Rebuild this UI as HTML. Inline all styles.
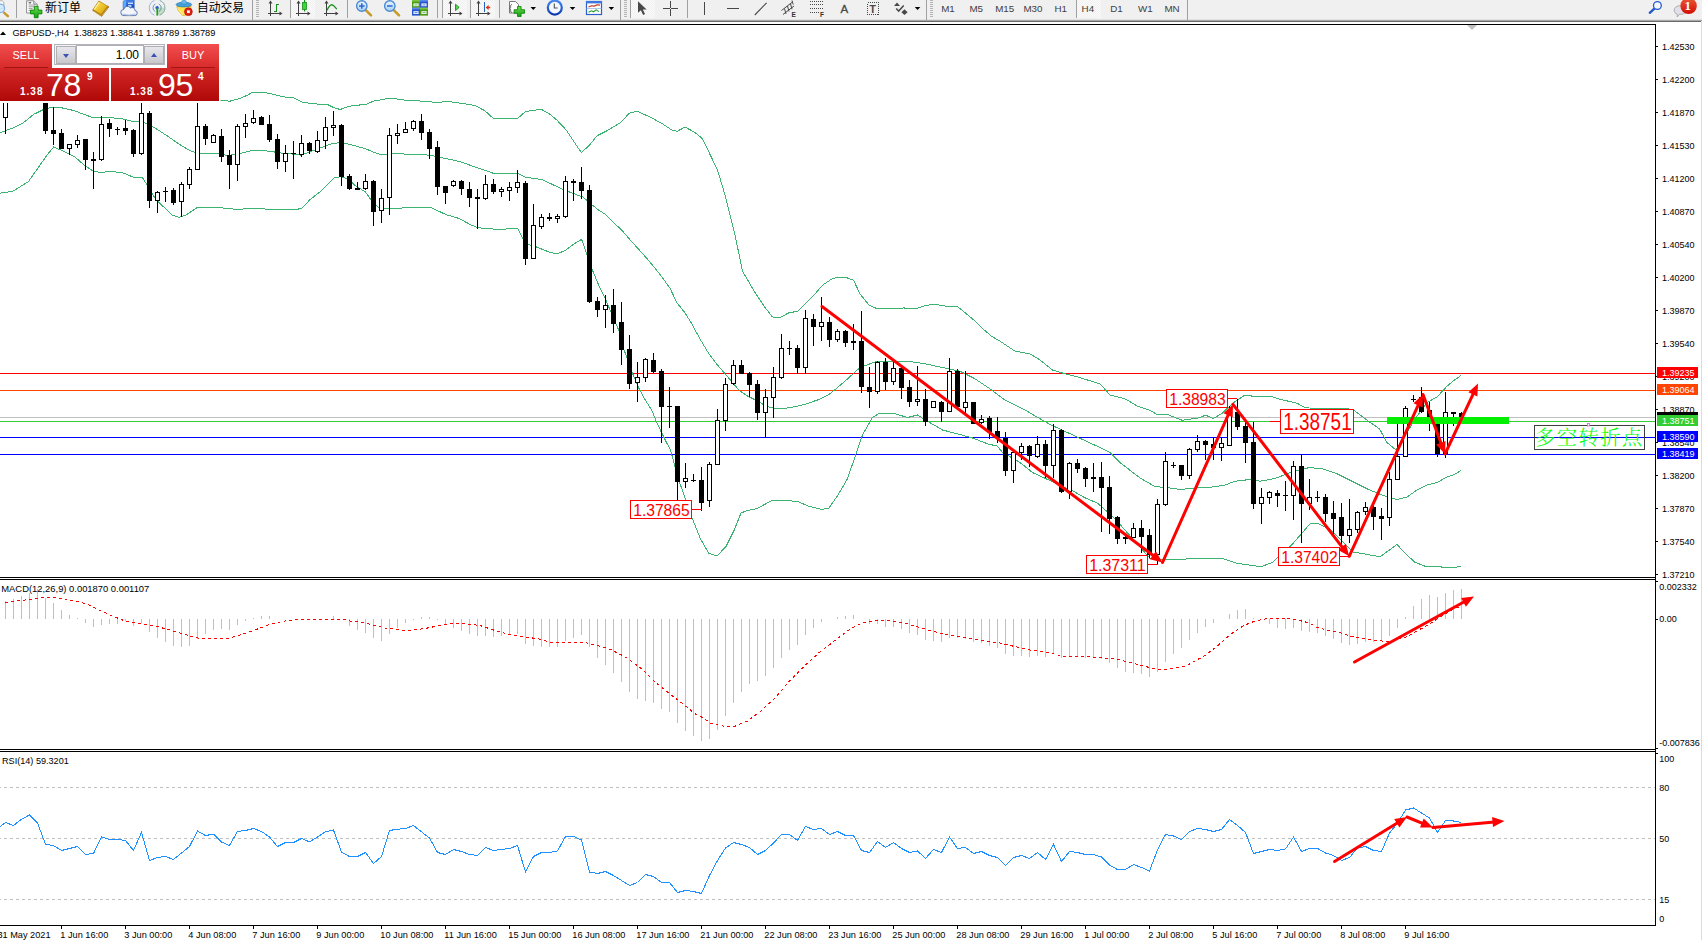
<!DOCTYPE html>
<html><head><meta charset="utf-8"><title>GBPUSD H4</title>
<style>
html,body{margin:0;padding:0;background:#fff;}
#root{position:relative;width:1702px;height:940px;overflow:hidden;background:#fff;font-family:"Liberation Sans","Noto Sans CJK SC",sans-serif;}
#oct{position:absolute;left:0;top:44px;width:219px;height:57px;}
#oct .btn{position:absolute;top:0;width:52px;height:24px;background:linear-gradient(#f24e4e,#d82a2a);color:#fff;font-size:11px;text-align:center;line-height:23px;z-index:2;}
#oct .btn i{position:absolute;left:4px;right:4px;bottom:0;height:1px;background:#a41414;}
#oct .sell{left:0}
#oct .buy{left:167px}
#oct .spin{position:absolute;left:54px;top:0;width:111px;height:21px;background:#f4f4f4;border:1px solid #b4b4bc;box-sizing:border-box;}
#oct .sb{position:absolute;top:1px;width:20px;height:18px;background:linear-gradient(#e8e8ec,#c8c8cc);border:1px solid #b0b0b4;box-sizing:border-box;}
#oct .dn{left:1px}
#oct .up{left:89px}
#oct .dn:after{content:"";position:absolute;left:6px;top:7px;border:3px solid transparent;border-top:4px solid #3c50b4;border-bottom:0;}
#oct .up:after{content:"";position:absolute;left:6px;top:6px;border:3px solid transparent;border-bottom:4px solid #3c50b4;border-top:0;}
#oct .inp{position:absolute;left:21px;top:0px;width:68px;height:19px;background:#fff;border:1px solid #b0b0b4;box-sizing:border-box;font-size:12px;line-height:18px;text-align:right;padding-right:4px;color:#000;}
#oct .blk{position:absolute;top:24px;height:33px;width:109px;background:linear-gradient(#d42828,#b00808);color:#fff;}
#oct .blk.l{left:0}
#oct .blk.r{left:111px;width:108px}
#oct .blk span{position:absolute;white-space:nowrap;}
#oct .blk .s{left:20px;top:18px;font-size:10px;font-weight:bold;line-height:12px;letter-spacing:1px;}
#oct .blk .b{left:46px;top:0px;font-size:32px;line-height:34px;letter-spacing:-0.3px;}
#oct .blk .p{left:87px;top:3px;font-size:10px;font-weight:bold;line-height:12px;}
#oct .blk.r .s{left:19px}
#oct .blk.r .b{left:47px}
#oct .blk.r .p{left:87px}

</style></head><body>
<div id="root">
<svg id="tb" width="1702" height="22" viewBox="0 0 1702 22" style="position:absolute;left:0;top:0" font-family='"Liberation Sans","Noto Sans CJK SC",sans-serif'>
<defs>
<linearGradient id="gGold" x1="0" y1="0" x2="1" y2="1"><stop offset="0" stop-color="#fbe878"/><stop offset="0.5" stop-color="#f0c428"/><stop offset="1" stop-color="#d09410"/></linearGradient>
<linearGradient id="gGlass" x1="0" y1="0" x2="0" y2="1"><stop offset="0" stop-color="#eaf4ff"/><stop offset="1" stop-color="#a8d0f4"/></linearGradient>
<linearGradient id="gBadge" x1="0" y1="0" x2="0" y2="1"><stop offset="0" stop-color="#ea5a38"/><stop offset="1" stop-color="#d40c00"/></linearGradient>
<linearGradient id="gGreen" x1="0" y1="0" x2="0" y2="1"><stop offset="0" stop-color="#6be04a"/><stop offset="1" stop-color="#12a012"/></linearGradient>
<linearGradient id="gBlue" x1="0" y1="0" x2="0" y2="1"><stop offset="0" stop-color="#4a8af0"/><stop offset="1" stop-color="#1038b0"/></linearGradient>
<pattern id="chk" width="2" height="2" patternUnits="userSpaceOnUse"><rect width="2" height="2" fill="#fbfbfb"/><rect width="1" height="1" fill="#f0f0f0"/><rect x="1" y="1" width="1" height="1" fill="#f0f0f0"/></pattern>
<g id="grip" shape-rendering="crispEdges"><rect x="0" y="0" width="3" height="1"/><rect x="0" y="2" width="3" height="1"/><rect x="0" y="4" width="3" height="1"/><rect x="0" y="6" width="3" height="1"/><rect x="0" y="8" width="3" height="1"/><rect x="0" y="10" width="3" height="1"/><rect x="0" y="12" width="3" height="1"/><rect x="0" y="14" width="3" height="1"/><rect x="0" y="16" width="3" height="1"/></g>
</defs>
<rect x="0" y="0" width="1702" height="22" fill="#f0f0f0"/>
<rect x="0" y="19" width="1702" height="1" fill="#e2e2e2"/>
<rect x="0" y="20" width="1702" height="1" fill="#a8a8a8"/>
<rect x="0" y="21" width="1702" height="1" fill="#6a6a6a"/>

<!-- active button backgrounds -->
<rect x="291" y="0" width="24" height="18" fill="url(#chk)"/>
<rect x="442" y="0" width="25" height="18" fill="url(#chk)"/>
<rect x="470" y="0" width="25" height="18" fill="url(#chk)"/>
<rect x="631" y="0" width="24" height="18" fill="url(#chk)"/>
<rect x="1077" y="0" width="24" height="18" fill="url(#chk)"/>

<!-- separators -->
<g fill="#a0a0a0" shape-rendering="crispEdges">
<rect x="16" y="0" width="1" height="18"/>
<rect x="252" y="0" width="1" height="20"/>
<rect x="290" y="0" width="1" height="18"/>
<rect x="347" y="0" width="1" height="18"/>
<rect x="437" y="0" width="1" height="18"/>
<rect x="442" y="0" width="1" height="18"/>
<rect x="470" y="0" width="1" height="18"/>
<rect x="499" y="0" width="1" height="18"/>
<rect x="620" y="0" width="1" height="20"/>
<rect x="630" y="0" width="1" height="18"/>
<rect x="687" y="0" width="1" height="18"/>
<rect x="926" y="0" width="1" height="20"/>
<rect x="1076" y="0" width="1" height="18"/>
<rect x="1187" y="0" width="1" height="20"/>
</g>
<!-- grips -->
<use href="#grip" x="256" y="0" fill="#b4b4b4"/>
<use href="#grip" x="624" y="0" fill="#b4b4b4"/>
<use href="#grip" x="930" y="0" fill="#b4b4b4"/>

<!-- magnifier cut at left -->
<path d="M-1 0.8h3.2l1.6 1.6v6h-5z" fill="#fff" stroke="#9a9a9a" stroke-width="0.8"/>
<line x1="4.2" y1="12.8" x2="7.9" y2="16.2" stroke="#c8982a" stroke-width="2.5" stroke-linecap="round"/>
<circle cx="0.4" cy="8.3" r="4.2" fill="#cfe6fb" fill-opacity="0.85" stroke="#7fb0e6" stroke-width="1.2"/>

<!-- new order -->
<path d="M26.6 0.8h7.2l3.4 3.4v8.8h-10.6z" fill="#fff" stroke="#808080" stroke-width="0.9"/>
<path d="M33.8 0.8v3.4h3.4" fill="#e4e4e4" stroke="#808080" stroke-width="0.9"/>
<path d="M28.6 2.8h2.6" stroke="#505050" stroke-width="1.2"/><path d="M28.6 5h6.2M28.6 6.8h6.2M28.6 8.6h4M28.6 10.4h3" stroke="#808080" stroke-width="0.8"/>
<path d="M34.3 6.3h3.8v3.8h3.8v3.8h-3.8v3.8h-3.8v-3.8h-3.8v-3.8h3.8z" fill="url(#gGreen)" stroke="#0a820a" stroke-width="0.9" stroke-linejoin="round"/>
<text x="45" y="11.6" font-size="12px" fill="#000" textLength="36" lengthAdjust="spacingAndGlyphs">新订单</text>

<!-- gold book -->
<path d="M92.7 10.3l8.9 6 7.2-9.4-1.3-.9-6.3 8.4-8-4.9z" fill="#b07c10" stroke="#8a5a04" stroke-width="0.8" stroke-linejoin="round"/>
<path d="M93.8 11.3l7.6 4.9M108 7.4l-6.2 8.4" stroke="#ecc85c" stroke-width="0.6" fill="none"/>
<path d="M98.9 1l8.6 5.2-6.3 8.4-8.2-5z" fill="url(#gGold)" stroke="#b8860c" stroke-width="0.8" stroke-linejoin="round"/>
<path d="M99.2 2.4l-4.9 7" stroke="#fff8c8" stroke-width="1.1" fill="none" stroke-opacity="0.85"/>
<!-- cloud / terminal -->
<path d="M123.2 1.2l3-1.2h8v8.6h-11z" fill="url(#gBlue)" stroke="#1a58c8" stroke-width="0.6"/>
<path d="M123.2 1.2l3-1.2v8.6h-3z" fill="#5aa8ff"/>
<rect x="128" y="2.6" width="5" height="1.3" fill="#d8ecff"/><rect x="128" y="5" width="3.4" height="2.4" fill="#a8d0ff"/>
<path d="M124 15.6a3.1 3.1 0 0 1-.2-6.2a3.6 3.6 0 0 1 6.6-1.4a3 3 0 0 1 4.6 2.6a2.5 2.5 0 0 1-.6 5z" fill="#f2f6fc" stroke="#4a68a8" stroke-width="0.9"/>
<path d="M122.6 14.2q6 1.6 13 0" stroke="#b8c8e4" stroke-width="1.2" fill="none"/>
<!-- signals -->
<path d="M157.1 15.4v-7.6h7.8a7.8 7.8 0 0 1-7.8 7.8z" fill="#8cc88c" fill-opacity="0.45"/>
<path d="M154.4 15.1a7.8 7.8 0 0 1 0-14.6M159.8 0.5a7.8 7.8 0 0 1 0 14.6" fill="none" stroke="#9ab4e0" stroke-width="1"/>
<path d="M155.4 11.6a4.2 4.2 0 0 1 0-7.6M158.8 4a4.2 4.2 0 0 1 0 7.6" fill="none" stroke="#6a90dc" stroke-width="1"/>
<path d="M159.8 0.5a7.8 7.8 0 0 1 0 14.6M158.8 4a4.2 4.2 0 0 1 0 7.6" fill="none" stroke="#88b888" stroke-width="1" stroke-opacity="0.7"/>
<circle cx="157.1" cy="7.8" r="1.7" fill="#2a58cc"/>
<rect x="156.4" y="8" width="1.7" height="7.6" fill="#22a022"/>
<!-- expert advisors -->
<path d="M176.8 6.4h14.4l-1.6 4-4.8 5.4-2.4-.6-4.4-5z" fill="#ffe248" stroke="#d8a818" stroke-width="0.7" stroke-linejoin="round"/>
<path d="M178 8.6l5 6" stroke="#fff6b0" stroke-width="1" fill="none"/>
<ellipse cx="183.9" cy="4.6" rx="7.8" ry="2.3" fill="#4aa0dc" stroke="#2078b0" stroke-width="0.7"/>
<path d="M181.2 4c-.4-5 6-5 5.6 0z" fill="#68b8ec" stroke="#2a86c0" stroke-width="0.6"/>
<circle cx="188.4" cy="11.7" r="3.9" fill="#e02010" stroke="#b01008" stroke-width="0.7"/>
<rect x="187" y="10.3" width="2.8" height="2.8" fill="#fff"/>
<text x="197" y="11.6" font-size="12px" fill="#000" textLength="47" lengthAdjust="spacingAndGlyphs">自动交易</text>

<!-- chart type icons: axes -->
<g stroke="#404040" stroke-width="1" fill="none" shape-rendering="crispEdges">
<path d="M270.5 2v14M268 13.5h13"/>
<path d="M298.5 2v14M296 13.5h13"/>
<path d="M326.5 2v14M324 13.5h13"/>
<path d="M450.5 2v14M448 13.5h13"/>
<path d="M478.5 2v14M476 13.5h13"/>
</g>
<g fill="#404040">
<path d="M270.5 0.5l-2 3h4zM282.5 13.5l-3-2v4z"/>
<path d="M298.5 0.5l-2 3h4zM310.5 13.5l-3-2v4z"/>
<path d="M326.5 0.5l-2 3h4zM338.5 13.5l-3-2v4z"/>
<path d="M450.5 0.5l-2 3h4zM462.5 13.5l-3-2v4z"/>
<path d="M478.5 0.5l-2 3h4zM490.5 13.5l-3-2v4z"/>
</g>
<!-- bar -->
<g fill="#18901c" shape-rendering="crispEdges"><rect x="276" y="4" width="1.4" height="8"/><rect x="277" y="4" width="2.2" height="1.3"/><rect x="274" y="10.6" width="2.2" height="1.3"/></g>
<!-- candle -->
<rect x="304" y="0" width="1.2" height="11.5" fill="#18901c"/>
<rect x="302.5" y="2.5" width="4" height="7" fill="#38d838" stroke="#18901c" stroke-width="0.8"/>
<!-- line -->
<path d="M326.8 10.5c2-4 4-6.3 5.6-5.6s3 2.5 4.4 4.3" stroke="#18901c" stroke-width="1.3" fill="none"/>
<!-- zoom in/out -->
<g>
<line x1="366" y1="10.4" x2="371" y2="15.4" stroke="#c89a28" stroke-width="2.6" stroke-linecap="round"/>
<circle cx="361.8" cy="6" r="5.2" fill="url(#gGlass)" stroke="#4a8ad4" stroke-width="1.4"/>
<path d="M359 6h5.6M361.8 3.2v5.6" stroke="#2a6acc" stroke-width="1.5"/>
<line x1="394" y1="10.4" x2="399" y2="15.4" stroke="#c89a28" stroke-width="2.6" stroke-linecap="round"/>
<circle cx="389.8" cy="6" r="5.2" fill="url(#gGlass)" stroke="#4a8ad4" stroke-width="1.4"/>
<path d="M387 6h5.6" stroke="#2a6acc" stroke-width="1.5"/>
</g>
<!-- tile windows -->
<g>
<rect x="412" y="0" width="8" height="7.8" fill="#4c9c14"/><rect x="420" y="0" width="8" height="7.8" fill="#2454d0"/>
<rect x="412" y="7.8" width="8" height="7.8" fill="#2454d0"/><rect x="420" y="7.8" width="8" height="7.8" fill="#4c9c14"/>
<g fill="#7ac43c"><rect x="412" y="0" width="8" height="1.6"/><rect x="420" y="7.8" width="8" height="1.6"/></g>
<g fill="#5a88ee"><rect x="420" y="0" width="8" height="1.6"/><rect x="412" y="7.8" width="8" height="1.6"/></g>
<g fill="#f4f8ff"><rect x="413.4" y="3.4" width="5.2" height="2.8"/><rect x="421.4" y="3.4" width="5.2" height="2.8"/><rect x="413.4" y="11.2" width="5.2" height="2.8"/><rect x="421.4" y="11.2" width="5.2" height="2.8"/></g>
<g fill="#4c9c14"><rect x="414.4" y="4.6" width="3.2" height="0.7"/><rect x="422.4" y="12.4" width="3.2" height="0.7"/></g>
<g fill="#2454d0"><rect x="422.4" y="4.6" width="3.2" height="0.7"/><rect x="414.4" y="12.4" width="3.2" height="0.7"/></g>
</g>
<!-- autoscroll -->
<path d="M455.5 4.2l3.6 3.2-3.6 3.2z" fill="#50d850" stroke="#18901c" stroke-width="0.9"/>
<!-- chart shift -->
<rect x="484" y="2" width="1" height="10" fill="#2060c0" shape-rendering="crispEdges"/>
<path d="M485.6 7.5l3-2.4v1.6h1.6v1.6h-1.6v1.6z" fill="#e03010"/>
<!-- indicators doc + -->
<path d="M509.5 1.5h6l3 3v8.5h-9z" fill="#fff" stroke="#7a7a7a" stroke-width="1"/>
<path d="M512 4.5c-1.4 0-1.4 1-1.4 2.2s0 1.6-1 1.8c1 .2 1 .6 1 1.8s0 2 1.4 2" fill="none" stroke="#555" stroke-width="0.9"/>
<path d="M517.5 6.5h3.6v3.2h3.4v3.6h-3.4v3.2h-3.6v-3.2h-3.4v-3.6h3.4z" fill="url(#gGreen)" stroke="#0a7a0a" stroke-width="0.8"/>
<path d="M530.5 7h5.5l-2.75 3z" fill="#000"/>
<!-- clock -->
<circle cx="554.8" cy="7.6" r="7" fill="#f4f8ff" stroke="url(#gBlue)" stroke-width="2.2"/>
<path d="M554.3 3.6v4.4h3.4" fill="none" stroke="#505050" stroke-width="1.1"/>
<path d="M569.8 7h5.5l-2.75 3z" fill="#000"/>
<!-- template -->
<rect x="586.5" y="1.5" width="15" height="13" fill="#fff" stroke="#2a60c8" stroke-width="1.2"/>
<rect x="586" y="1" width="16" height="2.4" fill="#3a78e0"/>
<path d="M586.5 8.5h15" stroke="#9ab8e8" stroke-width="0.8"/>
<path d="M588.5 7l3-1.3 3 .4 2.5-1.4 3 .4" fill="none" stroke="#c03018" stroke-width="1.1"/>
<path d="M588.5 12.2l3-1.4 2 1 2.6-2 3 1.8" fill="none" stroke="#20a030" stroke-width="1.1"/>
<path d="M608.6 7h5.5l-2.75 3z" fill="#000"/>
<!-- cursor -->
<path d="M638 1.2v11.6l2.9-2.6 2.2 4.8 1.9-.9-2.2-4.6h3.8z" fill="#484848"/>
<!-- crosshair -->
<g fill="#484848" shape-rendering="crispEdges"><rect x="670" y="1" width="1" height="15"/><rect x="663" y="8" width="15" height="1"/></g>
<rect x="670" y="8" width="1" height="1" fill="#f0f0f0"/>
<!-- v/h/trend line -->
<g fill="#484848" shape-rendering="crispEdges"><rect x="704" y="2" width="1" height="13"/><rect x="727" y="8" width="12" height="1"/></g>
<line x1="754.8" y1="15" x2="766.6" y2="2.8" stroke="#484848" stroke-width="1.1"/>
<!-- channel -->
<g stroke="#484848" stroke-width="1" fill="none">
<path d="M781.5 10.5l11-8.5M783 14.5l11-8.5M784.5 8.5l1.5 5.5M787.5 6l1.5 5.5M790.5 3.8l1.5 5.5M792 0.5l1.2 4"/>
</g>
<text x="791.5" y="16.8" font-size="6.5px" font-weight="bold" fill="#303030">E</text>
<!-- fibo -->
<g stroke="#484848" stroke-width="1" stroke-dasharray="1,1" shape-rendering="crispEdges">
<path d="M810 1.5h13M810 4.5h13M810 8.5h13M810 12.5h10"/>
</g>
<text x="820" y="16.6" font-size="6.5px" font-weight="bold" fill="#303030">F</text>
<!-- A -->
<text x="840.4" y="12.6" font-size="11.5px" fill="#484848" stroke="#484848" stroke-width="0.3">A</text>
<!-- T box -->
<rect x="867.5" y="2.5" width="11" height="12" fill="none" stroke="#484848" stroke-width="1" stroke-dasharray="1,1" shape-rendering="crispEdges"/>
<text x="869.6" y="12.6" font-size="10.5px" font-weight="bold" fill="#484848">T</text>
<!-- arrows -->
<path d="M894 6l3-3.6 3 3.6z" fill="#484848"/><path d="M896.2 8.4l2.5 2.7 5-5.6" fill="none" stroke="#484848" stroke-width="1.5"/><path d="M901.4 12.2l3.1-2.9 3.1 2.9-3.1 2.9z" fill="#484848"/>
<path d="M914.8 7h5.5l-2.75 3z" fill="#000"/>
<!-- timeframes -->
<g font-size="9.8px" fill="#404040">
<text x="941.2" y="11.5">M1</text><text x="969.4" y="11.5">M5</text><text x="995.2" y="11.5">M15</text><text x="1023.4" y="11.5">M30</text>
<text x="1054.4" y="11.5">H1</text><text x="1081.6" y="11.5">H4</text><text x="1110.2" y="11.5">D1</text><text x="1138" y="11.5">W1</text><text x="1164.4" y="11.5">MN</text>
</g>
<!-- search -->
<line x1="1649.8" y1="12.8" x2="1654.6" y2="8.4" stroke="#2458cc" stroke-width="2.4" stroke-linecap="round"/>
<circle cx="1657.4" cy="5.5" r="3.9" fill="#f6f8ff" stroke="#2458cc" stroke-width="1.3"/>
<!-- chat + badge -->
<path d="M1674.2 10.2c0-6 12-6 12 0c0 4-4.8 4.2-7 4.2l-2 2.6v-2.9c-1.6-.5-3-1.6-3-3.9z" fill="#e0e0ea" stroke="#a8a8a8" stroke-width="0.9"/>
<circle cx="1688.6" cy="5.9" r="8.2" fill="url(#gBadge)"/>
<text x="1684.4" y="10.2" font-size="13px" font-weight="bold" fill="#fff" font-family='"Liberation Serif",serif'>1</text>
</svg>

<svg id="chart" width="1702" height="940" viewBox="0 0 1702 940" style="position:absolute;left:0;top:0" font-family='"Liberation Sans", sans-serif' font-size="9px">
<g shape-rendering="crispEdges" fill="#000">
<rect x="0" y="24" width="1656" height="1"/>
<rect x="1655" y="24" width="1" height="902"/>
<rect x="0" y="577" width="1656" height="1"/>
<rect x="0" y="579" width="1656" height="1"/>
<rect x="0" y="749" width="1656" height="1"/>
<rect x="0" y="751" width="1656" height="1"/>
<rect x="0" y="925" width="1656" height="1"/>
</g>
<g shape-rendering="crispEdges">
<rect x="0" y="373" width="1655" height="1" fill="#ff0000"/>
<rect x="0" y="390" width="1655" height="1" fill="#ff4500"/>
<rect x="0" y="417" width="1655" height="1" fill="#c0c0c0"/>
<rect x="0" y="421" width="1655" height="1" fill="#32cd32"/>
<rect x="0" y="437" width="1655" height="1" fill="#0000ff"/>
<rect x="0" y="454" width="1655" height="1" fill="#0000ff"/>
</g>
<polyline points="205.0,100.0 220.7,100.2 229.7,101.2 238.8,98.9 247.8,95.0 252.5,92.3 265.0,92.5 276.3,95.0 284.0,96.9 293.0,97.6 302.1,102.1 313.8,103.8 328.0,104.7 334.4,107.9 340.3,109.5 346.0,107.3 353.8,105.3 365.5,104.7 373.2,101.2 387.4,98.6 396.5,98.9 406.8,100.4 419.8,100.8 420.0,101.2 439.4,102.5 445.9,101.2 458.8,103.0 474.3,105.3 484.6,110.5 493.4,118.5 517.6,118.5 525.4,111.5 533.8,110.3 540.9,109.2 549.3,113.7 557.0,120.2 566.1,129.9 573.8,141.5 581.3,152.5 589.3,145.4 597.1,135.7 606.1,131.2 620.4,122.8 629.4,113.1 637.2,111.2 650.0,117.0 662.5,123.8 672.5,130.5 677.5,131.2 685.0,127.0 695.0,132.5 702.5,138.8 717.5,170.0 725.0,195.0 735.0,235.0 742.5,271.2 755.0,292.5 765.0,307.5 772.5,317.0 780.0,317.5 789.0,312.7 797.5,311.4 806.0,303.0 815.0,294.0 822.7,285.0 831.7,279.0 838.0,277.0 846.0,277.4 853.7,280.4 860.0,294.0 869.0,305.0 876.3,308.4 904.0,308.0 917.0,308.4 924.8,305.6 933.8,304.3 946.8,306.2 957.0,306.2 967.4,314.6 976.5,322.4 983.0,329.0 992.0,336.6 1000.0,341.2 1015.0,351.2 1030.0,353.8 1040.0,360.0 1052.5,370.0 1062.5,373.0 1075.0,376.2 1087.5,380.0 1100.0,383.8 1110.0,395.0 1125.0,398.8 1137.5,406.2 1150.0,410.4 1157.8,414.9 1166.8,414.3 1182.3,420.3 1197.8,418.1 1205.6,415.2 1213.3,418.5 1222.4,413.0 1232.7,403.3 1244.4,395.3 1253.4,396.2 1270.2,396.2 1280.6,399.4 1297.4,403.3 1305.1,407.8 1320.0,408.5 1341.3,408.2 1346.5,408.2 1354.2,410.4 1367.2,420.3 1379.5,428.8 1387.0,442.5 1396.0,450.0 1407.0,432.5 1417.0,416.2 1427.0,402.5 1437.0,397.0 1447.0,386.2 1454.5,380.0 1461.0,375.5" fill="none" stroke="#3cb371" stroke-width="1" shape-rendering="crispEdges"/>
<polyline points="0.0,132.7 12.9,128.0 23.3,122.8 33.6,114.4 42.7,109.9 51.7,107.3 62.0,107.9 73.7,110.5 84.0,114.4 93.1,117.6 109.9,117.6 122.8,118.9 133.1,121.5 142.2,121.5 147.4,124.1 155.1,128.0 168.0,136.4 181.0,145.4 190.0,150.6 195.2,152.5 200.0,153.4 218.1,153.4 227.8,155.8 233.6,154.5 241.4,153.2 251.7,150.6 264.6,150.6 273.7,151.9 282.7,153.2 290.5,153.8 300.8,155.1 309.9,151.9 320.2,148.0 330.6,144.1 339.0,142.6 346.1,143.5 356.4,146.1 366.8,149.3 374.5,152.5 381.0,154.7 386.1,154.2 393.9,153.2 406.8,154.2 419.8,154.7 420.0,154.2 432.9,155.8 445.9,158.6 460.1,161.6 471.7,165.8 482.0,169.3 493.0,173.2 517.6,173.2 525.4,177.1 542.2,179.7 551.9,184.2 562.2,189.1 572.5,193.2 582.9,197.1 590.6,203.6 598.4,210.0 604.8,213.9 611.3,220.4 621.7,230.1 629.4,239.1 639.8,250.5 648.2,260.0 658.8,272.9 669.8,287.8 676.9,302.7 684.6,312.4 692.4,324.6 695.0,330.0 700.8,340.3 708.6,353.3 716.3,363.6 724.1,372.7 731.9,381.7 739.6,390.8 747.4,395.9 755.1,399.8 762.9,404.3 770.6,407.6 778.4,408.6 786.1,408.2 796.5,406.3 806.8,403.7 819.8,399.2 830.0,393.8 845.0,381.2 860.0,367.5 875.0,362.0 887.5,361.2 907.5,361.2 925.0,363.8 942.5,367.5 960.0,371.2 975.0,378.8 990.0,388.8 1005.0,400.0 1025.0,410.0 1050.0,424.5 1075.0,436.0 1100.0,447.5 1110.0,452.5 1120.0,462.5 1140.0,478.0 1155.0,486.5 1170.0,488.0 1180.0,489.5 1200.0,487.5 1212.5,487.0 1225.0,485.0 1235.0,481.2 1250.0,479.5 1260.0,481.2 1275.0,478.5 1292.0,472.0 1309.5,467.5 1322.0,468.8 1337.0,473.8 1352.0,481.2 1367.0,488.8 1382.0,495.0 1397.0,499.5 1407.0,497.0 1417.0,490.0 1427.0,485.0 1437.0,482.5 1447.0,477.0 1454.5,474.5 1461.0,470.5" fill="none" stroke="#3cb371" stroke-width="1" shape-rendering="crispEdges"/>
<polyline points="0.0,193.2 12.9,191.3 28.4,181.6 37.5,168.7 46.5,155.8 53.6,147.0 62.0,150.6 75.0,157.0 85.3,166.1 93.7,171.3 102.1,172.6 109.9,171.0 124.1,173.2 133.1,177.1 142.2,177.1 147.4,185.5 155.1,198.4 162.9,206.2 171.9,215.0 179.0,217.5 186.1,215.0 197.8,207.2 200.0,207.2 225.9,208.1 236.2,209.4 251.7,208.5 275.0,209.4 297.0,209.4 302.1,208.1 309.9,199.7 321.5,190.7 329.3,182.9 334.4,177.7 340.9,176.7 348.7,179.0 355.1,185.5 365.5,192.0 371.9,201.0 379.7,208.8 386.1,208.8 399.1,208.5 406.8,207.2 419.8,207.2 420.0,207.2 430.3,207.2 445.9,214.6 458.8,218.4 470.4,224.6 477.5,227.5 484.6,228.5 500.1,229.4 513.1,228.5 517.6,228.1 522.8,238.5 527.9,244.3 536.3,246.9 542.8,249.5 550.6,252.7 557.0,253.6 564.8,250.8 572.5,244.9 581.6,239.4 586.8,254.0 591.9,268.9 598.4,284.4 604.8,297.3 610.0,310.0 618.7,330.0 623.9,349.4 632.3,372.7 638.8,388.2 645.2,399.8 651.7,410.1 656.9,423.1 662.0,433.4 667.2,443.8 670.5,450.0 679.0,481.0 685.5,499.0 692.5,519.0 700.5,539.0 709.0,553.5 717.0,556.0 726.0,546.5 734.0,530.5 741.0,513.0 746.0,511.0 757.0,508.5 772.0,500.5 785.0,500.5 798.0,501.5 808.0,506.0 822.0,509.5 829.0,508.0 838.0,495.0 847.0,479.5 854.0,460.0 862.5,435.0 872.5,417.5 880.0,413.0 895.0,413.8 907.5,417.5 917.5,415.0 927.5,421.2 942.5,430.0 957.5,433.8 972.5,438.0 987.5,443.8 997.5,446.2 1002.5,452.5 1020.0,462.5 1032.5,472.5 1065.0,487.5 1071.3,490.0 1084.4,497.5 1097.6,503.2 1114.5,518.2 1142.7,550.2 1150.2,558.6 1165.3,559.6 1201.0,558.6 1221.7,558.1 1236.7,563.3 1261.2,566.7 1272.4,562.4 1291.2,545.5 1310.0,523.8 1317.6,523.5 1330.7,529.5 1342.0,540.8 1353.3,552.0 1380.0,556.7 1389.5,550.0 1397.0,544.5 1404.5,552.5 1414.5,562.0 1427.0,567.0 1437.0,566.2 1447.0,568.0 1454.5,567.5 1461.0,566.2" fill="none" stroke="#3cb371" stroke-width="1" shape-rendering="crispEdges"/>
<g shape-rendering="crispEdges">
<rect x="5" y="95" width="1" height="39" fill="#000"/>
<rect x="3" y="96" width="5" height="22" fill="#000"/>
<rect x="4" y="97" width="3" height="20" fill="#fff"/>
<rect x="13" y="60" width="1" height="32" fill="#000"/>
<rect x="11" y="70" width="5" height="20" fill="#000"/>
<rect x="12" y="71" width="3" height="18" fill="#fff"/>
<rect x="21" y="60" width="1" height="32" fill="#000"/>
<rect x="19" y="70" width="5" height="20" fill="#000"/>
<rect x="29" y="60" width="1" height="32" fill="#000"/>
<rect x="27" y="70" width="5" height="20" fill="#000"/>
<rect x="28" y="71" width="3" height="18" fill="#fff"/>
<rect x="37" y="60" width="1" height="35" fill="#000"/>
<rect x="35" y="66" width="5" height="24" fill="#000"/>
<rect x="36" y="67" width="3" height="22" fill="#fff"/>
<rect x="45" y="95" width="1" height="39" fill="#000"/>
<rect x="43" y="96" width="5" height="35" fill="#000"/>
<rect x="53" y="107" width="1" height="38" fill="#000"/>
<rect x="51" y="130" width="5" height="4" fill="#000"/>
<rect x="61" y="129" width="1" height="20" fill="#000"/>
<rect x="59" y="133" width="5" height="16" fill="#000"/>
<rect x="69" y="144" width="1" height="11" fill="#000"/>
<rect x="67" y="144" width="5" height="5" fill="#000"/>
<rect x="68" y="145" width="3" height="3" fill="#fff"/>
<rect x="77" y="135" width="1" height="13" fill="#000"/>
<rect x="75" y="140" width="5" height="5" fill="#000"/>
<rect x="76" y="141" width="3" height="3" fill="#fff"/>
<rect x="85" y="139" width="1" height="31" fill="#000"/>
<rect x="83" y="139" width="5" height="21" fill="#000"/>
<rect x="93" y="152" width="1" height="37" fill="#000"/>
<rect x="91" y="159" width="5" height="2" fill="#000"/>
<rect x="101" y="116" width="1" height="45" fill="#000"/>
<rect x="99" y="124" width="5" height="36" fill="#000"/>
<rect x="100" y="125" width="3" height="34" fill="#fff"/>
<rect x="109" y="119" width="1" height="18" fill="#000"/>
<rect x="107" y="123" width="5" height="6" fill="#000"/>
<rect x="117" y="127" width="1" height="8" fill="#000"/>
<rect x="115" y="129" width="5" height="1" fill="#000"/>
<rect x="125" y="120" width="1" height="15" fill="#000"/>
<rect x="123" y="128" width="5" height="3" fill="#000"/>
<rect x="133" y="129" width="1" height="28" fill="#000"/>
<rect x="131" y="130" width="5" height="24" fill="#000"/>
<rect x="141" y="103" width="1" height="52" fill="#000"/>
<rect x="139" y="113" width="5" height="41" fill="#000"/>
<rect x="140" y="114" width="3" height="39" fill="#fff"/>
<rect x="149" y="111" width="1" height="97" fill="#000"/>
<rect x="147" y="113" width="5" height="88" fill="#000"/>
<rect x="157" y="191" width="1" height="22" fill="#000"/>
<rect x="155" y="192" width="5" height="9" fill="#000"/>
<rect x="156" y="193" width="3" height="7" fill="#fff"/>
<rect x="165" y="187" width="1" height="15" fill="#000"/>
<rect x="163" y="191" width="5" height="1" fill="#000"/>
<rect x="173" y="188" width="1" height="17" fill="#000"/>
<rect x="171" y="190" width="5" height="13" fill="#000"/>
<rect x="181" y="182" width="1" height="35" fill="#000"/>
<rect x="179" y="184" width="5" height="18" fill="#000"/>
<rect x="180" y="185" width="3" height="16" fill="#fff"/>
<rect x="189" y="167" width="1" height="22" fill="#000"/>
<rect x="187" y="169" width="5" height="16" fill="#000"/>
<rect x="188" y="170" width="3" height="14" fill="#fff"/>
<rect x="197" y="103" width="1" height="67" fill="#000"/>
<rect x="195" y="126" width="5" height="44" fill="#000"/>
<rect x="196" y="127" width="3" height="42" fill="#fff"/>
<rect x="205" y="124" width="1" height="21" fill="#000"/>
<rect x="203" y="126" width="5" height="13" fill="#000"/>
<rect x="213" y="134" width="1" height="9" fill="#000"/>
<rect x="211" y="135" width="5" height="8" fill="#000"/>
<rect x="212" y="136" width="3" height="6" fill="#fff"/>
<rect x="221" y="129" width="1" height="33" fill="#000"/>
<rect x="219" y="136" width="5" height="21" fill="#000"/>
<rect x="229" y="150" width="1" height="39" fill="#000"/>
<rect x="227" y="155" width="5" height="10" fill="#000"/>
<rect x="237" y="124" width="1" height="57" fill="#000"/>
<rect x="235" y="126" width="5" height="39" fill="#000"/>
<rect x="236" y="127" width="3" height="37" fill="#fff"/>
<rect x="245" y="114" width="1" height="24" fill="#000"/>
<rect x="243" y="123" width="5" height="4" fill="#000"/>
<rect x="244" y="124" width="3" height="2" fill="#fff"/>
<rect x="253" y="110" width="1" height="14" fill="#000"/>
<rect x="251" y="118" width="5" height="5" fill="#000"/>
<rect x="252" y="119" width="3" height="3" fill="#fff"/>
<rect x="261" y="116" width="1" height="9" fill="#000"/>
<rect x="259" y="117" width="5" height="8" fill="#000"/>
<rect x="269" y="115" width="1" height="27" fill="#000"/>
<rect x="267" y="124" width="5" height="16" fill="#000"/>
<rect x="277" y="134" width="1" height="35" fill="#000"/>
<rect x="275" y="139" width="5" height="23" fill="#000"/>
<rect x="285" y="145" width="1" height="27" fill="#000"/>
<rect x="283" y="153" width="5" height="9" fill="#000"/>
<rect x="284" y="154" width="3" height="7" fill="#fff"/>
<rect x="293" y="141" width="1" height="38" fill="#000"/>
<rect x="291" y="153" width="5" height="1" fill="#000"/>
<rect x="301" y="135" width="1" height="22" fill="#000"/>
<rect x="299" y="143" width="5" height="12" fill="#000"/>
<rect x="300" y="144" width="3" height="10" fill="#fff"/>
<rect x="309" y="142" width="1" height="12" fill="#000"/>
<rect x="307" y="143" width="5" height="8" fill="#000"/>
<rect x="317" y="131" width="1" height="22" fill="#000"/>
<rect x="315" y="140" width="5" height="12" fill="#000"/>
<rect x="316" y="141" width="3" height="10" fill="#fff"/>
<rect x="325" y="117" width="1" height="32" fill="#000"/>
<rect x="323" y="127" width="5" height="14" fill="#000"/>
<rect x="324" y="128" width="3" height="12" fill="#fff"/>
<rect x="333" y="111" width="1" height="25" fill="#000"/>
<rect x="331" y="125" width="5" height="3" fill="#000"/>
<rect x="332" y="126" width="3" height="1" fill="#fff"/>
<rect x="341" y="124" width="1" height="62" fill="#000"/>
<rect x="339" y="125" width="5" height="52" fill="#000"/>
<rect x="349" y="174" width="1" height="16" fill="#000"/>
<rect x="347" y="176" width="5" height="13" fill="#000"/>
<rect x="357" y="182" width="1" height="8" fill="#000"/>
<rect x="355" y="188" width="5" height="2" fill="#000"/>
<rect x="365" y="174" width="1" height="16" fill="#000"/>
<rect x="363" y="181" width="5" height="8" fill="#000"/>
<rect x="364" y="182" width="3" height="6" fill="#fff"/>
<rect x="373" y="180" width="1" height="46" fill="#000"/>
<rect x="371" y="181" width="5" height="31" fill="#000"/>
<rect x="381" y="189" width="1" height="34" fill="#000"/>
<rect x="379" y="198" width="5" height="13" fill="#000"/>
<rect x="380" y="199" width="3" height="11" fill="#fff"/>
<rect x="389" y="128" width="1" height="87" fill="#000"/>
<rect x="387" y="135" width="5" height="63" fill="#000"/>
<rect x="388" y="136" width="3" height="61" fill="#fff"/>
<rect x="397" y="124" width="1" height="20" fill="#000"/>
<rect x="395" y="133" width="5" height="3" fill="#000"/>
<rect x="396" y="134" width="3" height="1" fill="#fff"/>
<rect x="405" y="122" width="1" height="11" fill="#000"/>
<rect x="403" y="129" width="5" height="4" fill="#000"/>
<rect x="404" y="130" width="3" height="2" fill="#fff"/>
<rect x="413" y="120" width="1" height="11" fill="#000"/>
<rect x="411" y="121" width="5" height="8" fill="#000"/>
<rect x="412" y="122" width="3" height="6" fill="#fff"/>
<rect x="421" y="114" width="1" height="26" fill="#000"/>
<rect x="419" y="121" width="5" height="12" fill="#000"/>
<rect x="429" y="129" width="1" height="30" fill="#000"/>
<rect x="427" y="132" width="5" height="17" fill="#000"/>
<rect x="437" y="141" width="1" height="54" fill="#000"/>
<rect x="435" y="147" width="5" height="40" fill="#000"/>
<rect x="445" y="186" width="1" height="18" fill="#000"/>
<rect x="443" y="186" width="5" height="7" fill="#000"/>
<rect x="453" y="180" width="1" height="7" fill="#000"/>
<rect x="451" y="181" width="5" height="5" fill="#000"/>
<rect x="452" y="182" width="3" height="3" fill="#fff"/>
<rect x="461" y="180" width="1" height="15" fill="#000"/>
<rect x="459" y="181" width="5" height="8" fill="#000"/>
<rect x="469" y="182" width="1" height="25" fill="#000"/>
<rect x="467" y="189" width="5" height="9" fill="#000"/>
<rect x="477" y="189" width="1" height="40" fill="#000"/>
<rect x="475" y="197" width="5" height="2" fill="#000"/>
<rect x="485" y="175" width="1" height="25" fill="#000"/>
<rect x="483" y="184" width="5" height="15" fill="#000"/>
<rect x="484" y="185" width="3" height="13" fill="#fff"/>
<rect x="493" y="179" width="1" height="15" fill="#000"/>
<rect x="491" y="184" width="5" height="8" fill="#000"/>
<rect x="501" y="187" width="1" height="10" fill="#000"/>
<rect x="499" y="189" width="5" height="3" fill="#000"/>
<rect x="500" y="190" width="3" height="1" fill="#fff"/>
<rect x="509" y="182" width="1" height="19" fill="#000"/>
<rect x="507" y="187" width="5" height="4" fill="#000"/>
<rect x="508" y="188" width="3" height="2" fill="#fff"/>
<rect x="517" y="170" width="1" height="23" fill="#000"/>
<rect x="515" y="182" width="5" height="6" fill="#000"/>
<rect x="516" y="183" width="3" height="4" fill="#fff"/>
<rect x="525" y="181" width="1" height="84" fill="#000"/>
<rect x="523" y="183" width="5" height="76" fill="#000"/>
<rect x="533" y="204" width="1" height="55" fill="#000"/>
<rect x="531" y="225" width="5" height="34" fill="#000"/>
<rect x="532" y="226" width="3" height="32" fill="#fff"/>
<rect x="541" y="214" width="1" height="15" fill="#000"/>
<rect x="539" y="217" width="5" height="10" fill="#000"/>
<rect x="540" y="218" width="3" height="8" fill="#fff"/>
<rect x="549" y="213" width="1" height="8" fill="#000"/>
<rect x="547" y="217" width="5" height="2" fill="#000"/>
<rect x="557" y="214" width="1" height="9" fill="#000"/>
<rect x="555" y="216" width="5" height="3" fill="#000"/>
<rect x="556" y="217" width="3" height="1" fill="#fff"/>
<rect x="565" y="176" width="1" height="42" fill="#000"/>
<rect x="563" y="181" width="5" height="36" fill="#000"/>
<rect x="564" y="182" width="3" height="34" fill="#fff"/>
<rect x="573" y="179" width="1" height="22" fill="#000"/>
<rect x="571" y="181" width="5" height="2" fill="#000"/>
<rect x="581" y="167" width="1" height="32" fill="#000"/>
<rect x="579" y="182" width="5" height="9" fill="#000"/>
<rect x="589" y="185" width="1" height="118" fill="#000"/>
<rect x="587" y="190" width="5" height="112" fill="#000"/>
<rect x="597" y="297" width="1" height="20" fill="#000"/>
<rect x="595" y="301" width="5" height="9" fill="#000"/>
<rect x="605" y="295" width="1" height="33" fill="#000"/>
<rect x="603" y="305" width="5" height="5" fill="#000"/>
<rect x="604" y="306" width="3" height="3" fill="#fff"/>
<rect x="613" y="289" width="1" height="44" fill="#000"/>
<rect x="611" y="305" width="5" height="19" fill="#000"/>
<rect x="621" y="302" width="1" height="63" fill="#000"/>
<rect x="619" y="322" width="5" height="28" fill="#000"/>
<rect x="629" y="335" width="1" height="54" fill="#000"/>
<rect x="627" y="349" width="5" height="35" fill="#000"/>
<rect x="637" y="362" width="1" height="40" fill="#000"/>
<rect x="635" y="377" width="5" height="6" fill="#000"/>
<rect x="636" y="378" width="3" height="4" fill="#fff"/>
<rect x="645" y="358" width="1" height="24" fill="#000"/>
<rect x="643" y="359" width="5" height="19" fill="#000"/>
<rect x="644" y="360" width="3" height="17" fill="#fff"/>
<rect x="653" y="353" width="1" height="20" fill="#000"/>
<rect x="651" y="360" width="5" height="12" fill="#000"/>
<rect x="661" y="369" width="1" height="74" fill="#000"/>
<rect x="659" y="371" width="5" height="36" fill="#000"/>
<rect x="669" y="387" width="1" height="41" fill="#000"/>
<rect x="667" y="406" width="5" height="1" fill="#000"/>
<rect x="677" y="406" width="1" height="95" fill="#000"/>
<rect x="675" y="406" width="5" height="76" fill="#000"/>
<rect x="685" y="463" width="1" height="25" fill="#000"/>
<rect x="683" y="478" width="5" height="4" fill="#000"/>
<rect x="684" y="479" width="3" height="2" fill="#fff"/>
<rect x="693" y="474" width="1" height="8" fill="#000"/>
<rect x="691" y="480" width="5" height="1" fill="#000"/>
<rect x="701" y="467" width="1" height="44" fill="#000"/>
<rect x="699" y="480" width="5" height="23" fill="#000"/>
<rect x="709" y="462" width="1" height="45" fill="#000"/>
<rect x="707" y="464" width="5" height="37" fill="#000"/>
<rect x="708" y="465" width="3" height="35" fill="#fff"/>
<rect x="717" y="409" width="1" height="56" fill="#000"/>
<rect x="715" y="420" width="5" height="45" fill="#000"/>
<rect x="716" y="421" width="3" height="43" fill="#fff"/>
<rect x="725" y="378" width="1" height="53" fill="#000"/>
<rect x="723" y="384" width="5" height="37" fill="#000"/>
<rect x="724" y="385" width="3" height="35" fill="#fff"/>
<rect x="733" y="360" width="1" height="25" fill="#000"/>
<rect x="731" y="365" width="5" height="19" fill="#000"/>
<rect x="732" y="366" width="3" height="17" fill="#fff"/>
<rect x="741" y="360" width="1" height="14" fill="#000"/>
<rect x="739" y="365" width="5" height="9" fill="#000"/>
<rect x="749" y="372" width="1" height="25" fill="#000"/>
<rect x="747" y="373" width="5" height="12" fill="#000"/>
<rect x="757" y="380" width="1" height="40" fill="#000"/>
<rect x="755" y="384" width="5" height="29" fill="#000"/>
<rect x="765" y="389" width="1" height="49" fill="#000"/>
<rect x="763" y="397" width="5" height="16" fill="#000"/>
<rect x="764" y="398" width="3" height="14" fill="#fff"/>
<rect x="773" y="367" width="1" height="51" fill="#000"/>
<rect x="771" y="377" width="5" height="21" fill="#000"/>
<rect x="772" y="378" width="3" height="19" fill="#fff"/>
<rect x="781" y="334" width="1" height="45" fill="#000"/>
<rect x="779" y="348" width="5" height="30" fill="#000"/>
<rect x="780" y="349" width="3" height="28" fill="#fff"/>
<rect x="789" y="341" width="1" height="14" fill="#000"/>
<rect x="787" y="348" width="5" height="1" fill="#000"/>
<rect x="797" y="345" width="1" height="29" fill="#000"/>
<rect x="795" y="348" width="5" height="20" fill="#000"/>
<rect x="805" y="310" width="1" height="64" fill="#000"/>
<rect x="803" y="318" width="5" height="50" fill="#000"/>
<rect x="804" y="319" width="3" height="48" fill="#fff"/>
<rect x="813" y="314" width="1" height="32" fill="#000"/>
<rect x="811" y="319" width="5" height="8" fill="#000"/>
<rect x="821" y="297" width="1" height="44" fill="#000"/>
<rect x="819" y="322" width="5" height="5" fill="#000"/>
<rect x="820" y="323" width="3" height="3" fill="#fff"/>
<rect x="829" y="317" width="1" height="30" fill="#000"/>
<rect x="827" y="322" width="5" height="18" fill="#000"/>
<rect x="837" y="329" width="1" height="13" fill="#000"/>
<rect x="835" y="331" width="5" height="9" fill="#000"/>
<rect x="836" y="332" width="3" height="7" fill="#fff"/>
<rect x="845" y="330" width="1" height="17" fill="#000"/>
<rect x="843" y="331" width="5" height="12" fill="#000"/>
<rect x="853" y="324" width="1" height="26" fill="#000"/>
<rect x="851" y="341" width="5" height="2" fill="#000"/>
<rect x="861" y="311" width="1" height="82" fill="#000"/>
<rect x="859" y="341" width="5" height="46" fill="#000"/>
<rect x="869" y="367" width="1" height="41" fill="#000"/>
<rect x="867" y="387" width="5" height="5" fill="#000"/>
<rect x="877" y="361" width="1" height="33" fill="#000"/>
<rect x="875" y="362" width="5" height="30" fill="#000"/>
<rect x="876" y="363" width="3" height="28" fill="#fff"/>
<rect x="885" y="358" width="1" height="32" fill="#000"/>
<rect x="883" y="362" width="5" height="20" fill="#000"/>
<rect x="893" y="362" width="1" height="23" fill="#000"/>
<rect x="891" y="368" width="5" height="14" fill="#000"/>
<rect x="892" y="369" width="3" height="12" fill="#fff"/>
<rect x="901" y="367" width="1" height="32" fill="#000"/>
<rect x="899" y="368" width="5" height="20" fill="#000"/>
<rect x="909" y="380" width="1" height="27" fill="#000"/>
<rect x="907" y="387" width="5" height="15" fill="#000"/>
<rect x="917" y="366" width="1" height="40" fill="#000"/>
<rect x="915" y="399" width="5" height="3" fill="#000"/>
<rect x="916" y="400" width="3" height="1" fill="#fff"/>
<rect x="925" y="389" width="1" height="37" fill="#000"/>
<rect x="923" y="399" width="5" height="23" fill="#000"/>
<rect x="933" y="401" width="1" height="7" fill="#000"/>
<rect x="931" y="401" width="5" height="7" fill="#000"/>
<rect x="932" y="402" width="3" height="5" fill="#fff"/>
<rect x="941" y="401" width="1" height="21" fill="#000"/>
<rect x="939" y="402" width="5" height="10" fill="#000"/>
<rect x="949" y="358" width="1" height="54" fill="#000"/>
<rect x="947" y="371" width="5" height="41" fill="#000"/>
<rect x="948" y="372" width="3" height="39" fill="#fff"/>
<rect x="957" y="369" width="1" height="39" fill="#000"/>
<rect x="955" y="371" width="5" height="36" fill="#000"/>
<rect x="965" y="371" width="1" height="42" fill="#000"/>
<rect x="963" y="402" width="5" height="6" fill="#000"/>
<rect x="964" y="403" width="3" height="4" fill="#fff"/>
<rect x="973" y="402" width="1" height="22" fill="#000"/>
<rect x="971" y="402" width="5" height="22" fill="#000"/>
<rect x="981" y="415" width="1" height="9" fill="#000"/>
<rect x="979" y="419" width="5" height="4" fill="#000"/>
<rect x="980" y="420" width="3" height="2" fill="#fff"/>
<rect x="989" y="416" width="1" height="23" fill="#000"/>
<rect x="987" y="418" width="5" height="14" fill="#000"/>
<rect x="997" y="417" width="1" height="26" fill="#000"/>
<rect x="995" y="431" width="5" height="7" fill="#000"/>
<rect x="1005" y="432" width="1" height="44" fill="#000"/>
<rect x="1003" y="438" width="5" height="33" fill="#000"/>
<rect x="1013" y="451" width="1" height="32" fill="#000"/>
<rect x="1011" y="452" width="5" height="19" fill="#000"/>
<rect x="1012" y="453" width="3" height="17" fill="#fff"/>
<rect x="1021" y="443" width="1" height="17" fill="#000"/>
<rect x="1019" y="446" width="5" height="7" fill="#000"/>
<rect x="1020" y="447" width="3" height="5" fill="#fff"/>
<rect x="1029" y="445" width="1" height="22" fill="#000"/>
<rect x="1027" y="446" width="5" height="10" fill="#000"/>
<rect x="1037" y="436" width="1" height="22" fill="#000"/>
<rect x="1035" y="444" width="5" height="13" fill="#000"/>
<rect x="1036" y="445" width="3" height="11" fill="#fff"/>
<rect x="1045" y="440" width="1" height="38" fill="#000"/>
<rect x="1043" y="444" width="5" height="22" fill="#000"/>
<rect x="1053" y="424" width="1" height="54" fill="#000"/>
<rect x="1051" y="430" width="5" height="36" fill="#000"/>
<rect x="1052" y="431" width="3" height="34" fill="#fff"/>
<rect x="1061" y="429" width="1" height="64" fill="#000"/>
<rect x="1059" y="430" width="5" height="62" fill="#000"/>
<rect x="1069" y="462" width="1" height="37" fill="#000"/>
<rect x="1067" y="463" width="5" height="29" fill="#000"/>
<rect x="1068" y="464" width="3" height="27" fill="#fff"/>
<rect x="1077" y="459" width="1" height="14" fill="#000"/>
<rect x="1075" y="463" width="5" height="6" fill="#000"/>
<rect x="1085" y="467" width="1" height="20" fill="#000"/>
<rect x="1083" y="468" width="5" height="11" fill="#000"/>
<rect x="1093" y="463" width="1" height="29" fill="#000"/>
<rect x="1091" y="477" width="5" height="2" fill="#000"/>
<rect x="1101" y="462" width="1" height="70" fill="#000"/>
<rect x="1099" y="477" width="5" height="11" fill="#000"/>
<rect x="1109" y="476" width="1" height="58" fill="#000"/>
<rect x="1107" y="487" width="5" height="32" fill="#000"/>
<rect x="1117" y="516" width="1" height="28" fill="#000"/>
<rect x="1115" y="517" width="5" height="22" fill="#000"/>
<rect x="1125" y="535" width="1" height="9" fill="#000"/>
<rect x="1123" y="537" width="5" height="2" fill="#000"/>
<rect x="1133" y="523" width="1" height="15" fill="#000"/>
<rect x="1131" y="528" width="5" height="10" fill="#000"/>
<rect x="1132" y="529" width="3" height="8" fill="#fff"/>
<rect x="1141" y="520" width="1" height="33" fill="#000"/>
<rect x="1139" y="528" width="5" height="9" fill="#000"/>
<rect x="1149" y="529" width="1" height="29" fill="#000"/>
<rect x="1147" y="535" width="5" height="20" fill="#000"/>
<rect x="1157" y="499" width="1" height="66" fill="#000"/>
<rect x="1155" y="504" width="5" height="51" fill="#000"/>
<rect x="1156" y="505" width="3" height="49" fill="#fff"/>
<rect x="1165" y="452" width="1" height="54" fill="#000"/>
<rect x="1163" y="461" width="5" height="44" fill="#000"/>
<rect x="1164" y="462" width="3" height="42" fill="#fff"/>
<rect x="1173" y="462" width="1" height="6" fill="#000"/>
<rect x="1171" y="465" width="5" height="1" fill="#000"/>
<rect x="1181" y="465" width="1" height="15" fill="#000"/>
<rect x="1179" y="465" width="5" height="11" fill="#000"/>
<rect x="1189" y="448" width="1" height="31" fill="#000"/>
<rect x="1187" y="449" width="5" height="27" fill="#000"/>
<rect x="1188" y="450" width="3" height="25" fill="#fff"/>
<rect x="1197" y="435" width="1" height="17" fill="#000"/>
<rect x="1195" y="441" width="5" height="9" fill="#000"/>
<rect x="1196" y="442" width="3" height="7" fill="#fff"/>
<rect x="1205" y="440" width="1" height="20" fill="#000"/>
<rect x="1203" y="441" width="5" height="4" fill="#000"/>
<rect x="1213" y="437" width="1" height="23" fill="#000"/>
<rect x="1211" y="444" width="5" height="4" fill="#000"/>
<rect x="1221" y="437" width="1" height="24" fill="#000"/>
<rect x="1219" y="443" width="5" height="5" fill="#000"/>
<rect x="1220" y="444" width="3" height="3" fill="#fff"/>
<rect x="1229" y="406" width="1" height="40" fill="#000"/>
<rect x="1227" y="410" width="5" height="36" fill="#000"/>
<rect x="1228" y="411" width="3" height="34" fill="#fff"/>
<rect x="1237" y="399" width="1" height="31" fill="#000"/>
<rect x="1235" y="412" width="5" height="15" fill="#000"/>
<rect x="1245" y="422" width="1" height="41" fill="#000"/>
<rect x="1243" y="426" width="5" height="17" fill="#000"/>
<rect x="1253" y="422" width="1" height="87" fill="#000"/>
<rect x="1251" y="442" width="5" height="62" fill="#000"/>
<rect x="1261" y="488" width="1" height="36" fill="#000"/>
<rect x="1259" y="497" width="5" height="7" fill="#000"/>
<rect x="1260" y="498" width="3" height="5" fill="#fff"/>
<rect x="1269" y="491" width="1" height="13" fill="#000"/>
<rect x="1267" y="492" width="5" height="6" fill="#000"/>
<rect x="1268" y="493" width="3" height="4" fill="#fff"/>
<rect x="1277" y="490" width="1" height="17" fill="#000"/>
<rect x="1275" y="493" width="5" height="3" fill="#000"/>
<rect x="1285" y="481" width="1" height="30" fill="#000"/>
<rect x="1283" y="495" width="5" height="1" fill="#000"/>
<rect x="1293" y="461" width="1" height="59" fill="#000"/>
<rect x="1291" y="466" width="5" height="30" fill="#000"/>
<rect x="1292" y="467" width="3" height="28" fill="#fff"/>
<rect x="1301" y="454" width="1" height="89" fill="#000"/>
<rect x="1299" y="466" width="5" height="38" fill="#000"/>
<rect x="1309" y="479" width="1" height="31" fill="#000"/>
<rect x="1307" y="497" width="5" height="7" fill="#000"/>
<rect x="1308" y="498" width="3" height="5" fill="#fff"/>
<rect x="1317" y="491" width="1" height="11" fill="#000"/>
<rect x="1315" y="497" width="5" height="1" fill="#000"/>
<rect x="1325" y="494" width="1" height="28" fill="#000"/>
<rect x="1323" y="497" width="5" height="17" fill="#000"/>
<rect x="1333" y="501" width="1" height="36" fill="#000"/>
<rect x="1331" y="513" width="5" height="6" fill="#000"/>
<rect x="1341" y="503" width="1" height="42" fill="#000"/>
<rect x="1339" y="517" width="5" height="19" fill="#000"/>
<rect x="1349" y="499" width="1" height="44" fill="#000"/>
<rect x="1347" y="529" width="5" height="7" fill="#000"/>
<rect x="1348" y="530" width="3" height="5" fill="#fff"/>
<rect x="1357" y="511" width="1" height="22" fill="#000"/>
<rect x="1355" y="512" width="5" height="18" fill="#000"/>
<rect x="1356" y="513" width="3" height="16" fill="#fff"/>
<rect x="1365" y="502" width="1" height="13" fill="#000"/>
<rect x="1363" y="507" width="5" height="5" fill="#000"/>
<rect x="1364" y="508" width="3" height="3" fill="#fff"/>
<rect x="1373" y="506" width="1" height="24" fill="#000"/>
<rect x="1371" y="507" width="5" height="10" fill="#000"/>
<rect x="1381" y="508" width="1" height="32" fill="#000"/>
<rect x="1379" y="516" width="5" height="3" fill="#000"/>
<rect x="1389" y="472" width="1" height="54" fill="#000"/>
<rect x="1387" y="479" width="5" height="39" fill="#000"/>
<rect x="1388" y="480" width="3" height="37" fill="#fff"/>
<rect x="1397" y="423" width="1" height="57" fill="#000"/>
<rect x="1395" y="456" width="5" height="24" fill="#000"/>
<rect x="1396" y="457" width="3" height="22" fill="#fff"/>
<rect x="1405" y="406" width="1" height="51" fill="#000"/>
<rect x="1403" y="408" width="5" height="49" fill="#000"/>
<rect x="1404" y="409" width="3" height="47" fill="#fff"/>
<rect x="1413" y="395" width="1" height="7" fill="#000"/>
<rect x="1411" y="399" width="5" height="1" fill="#000"/>
<rect x="1421" y="387" width="1" height="26" fill="#000"/>
<rect x="1419" y="397" width="5" height="15" fill="#000"/>
<rect x="1429" y="402" width="1" height="29" fill="#000"/>
<rect x="1427" y="410" width="5" height="13" fill="#000"/>
<rect x="1437" y="421" width="1" height="36" fill="#000"/>
<rect x="1435" y="422" width="5" height="32" fill="#000"/>
<rect x="1445" y="392" width="1" height="66" fill="#000"/>
<rect x="1443" y="412" width="5" height="42" fill="#000"/>
<rect x="1444" y="413" width="3" height="40" fill="#fff"/>
<rect x="1453" y="412" width="1" height="14" fill="#000"/>
<rect x="1451" y="412" width="5" height="2" fill="#000"/>
<rect x="1461" y="412" width="1" height="8" fill="#000"/>
<rect x="1459" y="413" width="5" height="4" fill="#000"/>
</g>
<rect x="0" y="42" width="220.5" height="61" fill="#fff"/>
<rect x="1387" y="417" width="122" height="7" fill="#00f000" shape-rendering="crispEdges"/>
<g>
<line x1="822.0" y1="306.5" x2="1154.5" y2="556.5" stroke="#f00" stroke-width="3.0" stroke-linecap="round"/><polygon points="1162.5,562.5 1149.9,559.3 1155.9,551.3" fill="#f00"/>
<line x1="1162.5" y1="562.5" x2="1228.9" y2="413.4" stroke="#f00" stroke-width="3.0" stroke-linecap="round"/><polygon points="1233.0,404.3 1232.7,417.3 1223.5,413.2" fill="#f00"/>
<line x1="1233.0" y1="404.3" x2="1343.1" y2="548.4" stroke="#f00" stroke-width="3.0" stroke-linecap="round"/><polygon points="1349.2,556.3 1337.9,549.8 1345.9,543.7" fill="#f00"/>
<line x1="1349.2" y1="556.3" x2="1418.9" y2="403.6" stroke="#f00" stroke-width="3.0" stroke-linecap="round"/><polygon points="1423.0,394.5 1422.6,407.5 1413.5,403.3" fill="#f00"/>
<line x1="1423.0" y1="394.5" x2="1441.5" y2="444.6" stroke="#f00" stroke-width="3.0" stroke-linecap="round"/><polygon points="1445.0,454.0 1436.1,444.5 1445.5,441.0" fill="#f00"/>
<line x1="1445.0" y1="454.0" x2="1473.8" y2="392.6" stroke="#f00" stroke-width="3.0" stroke-linecap="round"/><polygon points="1478.0,383.5 1477.4,396.5 1468.4,392.2" fill="#f00"/>
</g>
<rect x="630.5" y="500.5" width="61" height="18" fill="#fff" stroke="#f00" stroke-width="1"/><text x="633.2" y="515.5" font-size="16.6px" fill="#f00" textLength="56.5" lengthAdjust="spacingAndGlyphs">1.37865</text>
<rect x="692" y="509" width="10" height="1" fill="#f00" shape-rendering="crispEdges"/>
<rect x="1166.5" y="389.5" width="61" height="18" fill="#fff" stroke="#f00" stroke-width="1"/><text x="1169.2" y="404.5" font-size="16.6px" fill="#f00" textLength="56.5" lengthAdjust="spacingAndGlyphs">1.38983</text>
<rect x="1228" y="398" width="9" height="1" fill="#f00" shape-rendering="crispEdges"/>
<rect x="1086.5" y="555.5" width="61" height="18" fill="#fff" stroke="#f00" stroke-width="1"/><text x="1089.2" y="570.5" font-size="16.6px" fill="#f00" textLength="56.5" lengthAdjust="spacingAndGlyphs">1.37311</text>
<rect x="1148" y="564" width="10" height="1" fill="#f00" shape-rendering="crispEdges"/>
<rect x="1278.5" y="547.5" width="61" height="18" fill="#fff" stroke="#f00" stroke-width="1"/><text x="1281.2" y="562.5" font-size="16.6px" fill="#f00" textLength="56.5" lengthAdjust="spacingAndGlyphs">1.37402</text>
<rect x="1340" y="556" width="9" height="1" fill="#f00" shape-rendering="crispEdges"/>
<rect x="1270" y="421" width="10" height="1" fill="#f00" shape-rendering="crispEdges"/>
<rect x="1280.5" y="409.5" width="73" height="24" fill="#fff" stroke="#f00" stroke-width="1"/><text x="1283.2" y="429.8" font-size="23px" fill="#f00" textLength="68.5" lengthAdjust="spacingAndGlyphs">1.38751</text>
<rect x="1534.5" y="425.5" width="110" height="24" fill="none" stroke="#404040" stroke-width="1"/>
<text x="1588.6" y="436.3" font-family='"Noto Serif CJK SC","Noto Sans CJK SC",serif' font-weight="300" font-size="20.3px" fill="#00ff00" text-anchor="middle" dominant-baseline="central" textLength="107" lengthAdjust="spacing">多空转折点</text>
<rect x="1587.5" y="423.5" width="2" height="2.5" fill="#fff" stroke="#ff40ff" stroke-width="0.8"/>
<g fill="#000">
<rect x="1656" y="46" width="2" height="1" shape-rendering="crispEdges"/>
<text x="1662" y="49.6">1.42530</text>
<rect x="1656" y="79" width="2" height="1" shape-rendering="crispEdges"/>
<text x="1662" y="82.6">1.42200</text>
<rect x="1656" y="112" width="2" height="1" shape-rendering="crispEdges"/>
<text x="1662" y="115.6">1.41870</text>
<rect x="1656" y="145" width="2" height="1" shape-rendering="crispEdges"/>
<text x="1662" y="148.6">1.41530</text>
<rect x="1656" y="178" width="2" height="1" shape-rendering="crispEdges"/>
<text x="1662" y="181.6">1.41200</text>
<rect x="1656" y="211" width="2" height="1" shape-rendering="crispEdges"/>
<text x="1662" y="214.6">1.40870</text>
<rect x="1656" y="244" width="2" height="1" shape-rendering="crispEdges"/>
<text x="1662" y="247.6">1.40540</text>
<rect x="1656" y="277" width="2" height="1" shape-rendering="crispEdges"/>
<text x="1662" y="280.6">1.40200</text>
<rect x="1656" y="310" width="2" height="1" shape-rendering="crispEdges"/>
<text x="1662" y="313.6">1.39870</text>
<rect x="1656" y="343" width="2" height="1" shape-rendering="crispEdges"/>
<text x="1662" y="346.6">1.39540</text>
<rect x="1656" y="376" width="2" height="1" shape-rendering="crispEdges"/>
<text x="1662" y="379.6">1.39200</text>
<rect x="1656" y="409" width="2" height="1" shape-rendering="crispEdges"/>
<text x="1662" y="412.6">1.38870</text>
<rect x="1656" y="442" width="2" height="1" shape-rendering="crispEdges"/>
<text x="1662" y="445.6">1.38540</text>
<rect x="1656" y="475" width="2" height="1" shape-rendering="crispEdges"/>
<text x="1662" y="478.6">1.38200</text>
<rect x="1656" y="508" width="2" height="1" shape-rendering="crispEdges"/>
<text x="1662" y="511.6">1.37870</text>
<rect x="1656" y="541" width="2" height="1" shape-rendering="crispEdges"/>
<text x="1662" y="544.6">1.37540</text>
<rect x="1656" y="574" width="2" height="1" shape-rendering="crispEdges"/>
<text x="1662" y="577.6">1.37210</text>
</g>
<rect x="1657" y="412" width="41" height="10" fill="#000" shape-rendering="crispEdges"/>
<rect x="1657" y="367" width="41" height="11" fill="#ff0000" shape-rendering="crispEdges"/>
<text x="1662" y="376" fill="#fff">1.39235</text>
<rect x="1657" y="384" width="41" height="11" fill="#ff4500" shape-rendering="crispEdges"/>
<text x="1662" y="393" fill="#fff">1.39064</text>
<rect x="1657" y="415" width="41" height="11" fill="#32cd32" shape-rendering="crispEdges"/>
<text x="1662" y="424" fill="#fff">1.38751</text>
<rect x="1657" y="431" width="41" height="11" fill="#0000ff" shape-rendering="crispEdges"/>
<text x="1662" y="440" fill="#fff">1.38590</text>
<rect x="1657" y="448" width="41" height="11" fill="#0000ff" shape-rendering="crispEdges"/>
<text x="1662" y="457" fill="#fff">1.38419</text>
<polygon points="0,35 6,35 3,31.5" fill="#000"/>
<text x="12.4" y="35.7" textLength="203" lengthAdjust="spacingAndGlyphs">GBPUSD-,H4&#160;&#160;1.38823 1.38841 1.38789 1.38789</text>
<polygon points="1467,25 1477,25 1472,30" fill="#c0c0c0"/>
<g shape-rendering="crispEdges" fill="#c0c0c0">
<rect x="5" y="601" width="1" height="18"/>
<rect x="13" y="599" width="1" height="20"/>
<rect x="21" y="596" width="1" height="23"/>
<rect x="29" y="593" width="1" height="26"/>
<rect x="37" y="589" width="1" height="30"/>
<rect x="45" y="598" width="1" height="21"/>
<rect x="53" y="603" width="1" height="16"/>
<rect x="61" y="610" width="1" height="9"/>
<rect x="69" y="615" width="1" height="4"/>
<rect x="77" y="618" width="1" height="1"/>
<rect x="85" y="619" width="1" height="4"/>
<rect x="93" y="619" width="1" height="8"/>
<rect x="101" y="619" width="1" height="6"/>
<rect x="109" y="619" width="1" height="5"/>
<rect x="117" y="619" width="1" height="5"/>
<rect x="125" y="619" width="1" height="2"/>
<rect x="133" y="619" width="1" height="7"/>
<rect x="141" y="619" width="1" height="4"/>
<rect x="149" y="619" width="1" height="13"/>
<rect x="157" y="619" width="1" height="19"/>
<rect x="165" y="619" width="1" height="23"/>
<rect x="173" y="619" width="1" height="27"/>
<rect x="181" y="619" width="1" height="28"/>
<rect x="189" y="619" width="1" height="27"/>
<rect x="197" y="619" width="1" height="20"/>
<rect x="205" y="619" width="1" height="15"/>
<rect x="213" y="619" width="1" height="11"/>
<rect x="221" y="619" width="1" height="10"/>
<rect x="229" y="619" width="1" height="11"/>
<rect x="237" y="619" width="1" height="6"/>
<rect x="245" y="619" width="1" height="2"/>
<rect x="253" y="618" width="1" height="1"/>
<rect x="261" y="616" width="1" height="3"/>
<rect x="269" y="616" width="1" height="3"/>
<rect x="333" y="616" width="1" height="3"/>
<rect x="349" y="619" width="1" height="7"/>
<rect x="357" y="619" width="1" height="11"/>
<rect x="365" y="619" width="1" height="14"/>
<rect x="373" y="619" width="1" height="19"/>
<rect x="381" y="619" width="1" height="22"/>
<rect x="389" y="619" width="1" height="15"/>
<rect x="397" y="619" width="1" height="9"/>
<rect x="405" y="619" width="1" height="4"/>
<rect x="413" y="619" width="1" height="1"/>
<rect x="421" y="617" width="1" height="2"/>
<rect x="429" y="617" width="1" height="2"/>
<rect x="437" y="619" width="1" height="1"/>
<rect x="445" y="619" width="1" height="5"/>
<rect x="453" y="619" width="1" height="9"/>
<rect x="461" y="619" width="1" height="12"/>
<rect x="469" y="619" width="1" height="15"/>
<rect x="477" y="619" width="1" height="17"/>
<rect x="485" y="619" width="1" height="17"/>
<rect x="493" y="619" width="1" height="18"/>
<rect x="501" y="619" width="1" height="17"/>
<rect x="509" y="619" width="1" height="16"/>
<rect x="517" y="619" width="1" height="15"/>
<rect x="525" y="619" width="1" height="25"/>
<rect x="533" y="619" width="1" height="27"/>
<rect x="541" y="619" width="1" height="28"/>
<rect x="549" y="619" width="1" height="28"/>
<rect x="557" y="619" width="1" height="28"/>
<rect x="565" y="619" width="1" height="22"/>
<rect x="573" y="619" width="1" height="19"/>
<rect x="581" y="619" width="1" height="16"/>
<rect x="589" y="619" width="1" height="28"/>
<rect x="597" y="619" width="1" height="39"/>
<rect x="605" y="619" width="1" height="46"/>
<rect x="613" y="619" width="1" height="54"/>
<rect x="621" y="619" width="1" height="63"/>
<rect x="629" y="619" width="1" height="73"/>
<rect x="637" y="619" width="1" height="80"/>
<rect x="645" y="619" width="1" height="82"/>
<rect x="653" y="619" width="1" height="84"/>
<rect x="661" y="619" width="1" height="90"/>
<rect x="669" y="619" width="1" height="93"/>
<rect x="677" y="619" width="1" height="104"/>
<rect x="685" y="619" width="1" height="112"/>
<rect x="693" y="619" width="1" height="117"/>
<rect x="701" y="619" width="1" height="122"/>
<rect x="709" y="619" width="1" height="120"/>
<rect x="717" y="619" width="1" height="111"/>
<rect x="725" y="619" width="1" height="97"/>
<rect x="733" y="619" width="1" height="84"/>
<rect x="741" y="619" width="1" height="73"/>
<rect x="749" y="619" width="1" height="65"/>
<rect x="757" y="619" width="1" height="62"/>
<rect x="765" y="619" width="1" height="57"/>
<rect x="773" y="619" width="1" height="49"/>
<rect x="781" y="619" width="1" height="39"/>
<rect x="789" y="619" width="1" height="31"/>
<rect x="797" y="619" width="1" height="26"/>
<rect x="805" y="619" width="1" height="16"/>
<rect x="813" y="619" width="1" height="9"/>
<rect x="821" y="619" width="1" height="3"/>
<rect x="837" y="617" width="1" height="2"/>
<rect x="845" y="616" width="1" height="3"/>
<rect x="853" y="615" width="1" height="4"/>
<rect x="869" y="619" width="1" height="5"/>
<rect x="877" y="619" width="1" height="5"/>
<rect x="885" y="619" width="1" height="8"/>
<rect x="893" y="619" width="1" height="8"/>
<rect x="901" y="619" width="1" height="10"/>
<rect x="909" y="619" width="1" height="14"/>
<rect x="917" y="619" width="1" height="16"/>
<rect x="925" y="619" width="1" height="21"/>
<rect x="933" y="619" width="1" height="22"/>
<rect x="941" y="619" width="1" height="23"/>
<rect x="949" y="619" width="1" height="19"/>
<rect x="957" y="619" width="1" height="19"/>
<rect x="965" y="619" width="1" height="20"/>
<rect x="973" y="619" width="1" height="23"/>
<rect x="981" y="619" width="1" height="24"/>
<rect x="989" y="619" width="1" height="27"/>
<rect x="997" y="619" width="1" height="29"/>
<rect x="1005" y="619" width="1" height="35"/>
<rect x="1013" y="619" width="1" height="37"/>
<rect x="1021" y="619" width="1" height="37"/>
<rect x="1029" y="619" width="1" height="38"/>
<rect x="1037" y="619" width="1" height="37"/>
<rect x="1045" y="619" width="1" height="38"/>
<rect x="1053" y="619" width="1" height="34"/>
<rect x="1061" y="619" width="1" height="39"/>
<rect x="1069" y="619" width="1" height="38"/>
<rect x="1077" y="619" width="1" height="37"/>
<rect x="1085" y="619" width="1" height="39"/>
<rect x="1093" y="619" width="1" height="39"/>
<rect x="1101" y="619" width="1" height="40"/>
<rect x="1109" y="619" width="1" height="44"/>
<rect x="1117" y="619" width="1" height="49"/>
<rect x="1125" y="619" width="1" height="53"/>
<rect x="1133" y="619" width="1" height="54"/>
<rect x="1141" y="619" width="1" height="55"/>
<rect x="1149" y="619" width="1" height="58"/>
<rect x="1157" y="619" width="1" height="53"/>
<rect x="1165" y="619" width="1" height="43"/>
<rect x="1173" y="619" width="1" height="35"/>
<rect x="1181" y="619" width="1" height="29"/>
<rect x="1189" y="619" width="1" height="21"/>
<rect x="1197" y="619" width="1" height="14"/>
<rect x="1205" y="619" width="1" height="8"/>
<rect x="1213" y="619" width="1" height="4"/>
<rect x="1229" y="614" width="1" height="5"/>
<rect x="1237" y="610" width="1" height="9"/>
<rect x="1245" y="609" width="1" height="10"/>
<rect x="1253" y="618" width="1" height="1"/>
<rect x="1269" y="619" width="1" height="5"/>
<rect x="1277" y="619" width="1" height="9"/>
<rect x="1285" y="619" width="1" height="10"/>
<rect x="1293" y="619" width="1" height="9"/>
<rect x="1301" y="619" width="1" height="12"/>
<rect x="1309" y="619" width="1" height="13"/>
<rect x="1317" y="619" width="1" height="14"/>
<rect x="1325" y="619" width="1" height="17"/>
<rect x="1333" y="619" width="1" height="20"/>
<rect x="1341" y="619" width="1" height="24"/>
<rect x="1349" y="619" width="1" height="26"/>
<rect x="1357" y="619" width="1" height="25"/>
<rect x="1365" y="619" width="1" height="23"/>
<rect x="1373" y="619" width="1" height="23"/>
<rect x="1381" y="619" width="1" height="22"/>
<rect x="1389" y="619" width="1" height="17"/>
<rect x="1397" y="619" width="1" height="9"/>
<rect x="1405" y="617" width="1" height="2"/>
<rect x="1413" y="606" width="1" height="13"/>
<rect x="1421" y="599" width="1" height="20"/>
<rect x="1429" y="595" width="1" height="24"/>
<rect x="1437" y="597" width="1" height="22"/>
<rect x="1445" y="593" width="1" height="26"/>
<rect x="1453" y="590" width="1" height="29"/>
<rect x="1461" y="589" width="1" height="30"/>
</g>
<polyline points="5.0,602.5 21.0,600.5 37.0,598.5 50.0,597.0 62.5,598.5 75.0,601.0 87.5,604.2 100.0,610.5 112.5,616.0 125.0,621.0 140.0,623.5 155.0,626.0 170.0,630.0 185.0,634.5 197.5,638.0 215.0,639.0 230.0,638.0 242.5,634.2 255.0,630.0 270.0,624.2 285.0,621.0 300.0,619.2 320.0,619.0 342.5,619.2 350.0,621.0 362.5,622.5 375.0,625.5 385.0,628.0 400.0,630.0 412.5,630.0 425.0,628.5 437.5,626.0 450.0,624.0 462.5,623.5 480.0,625.5 495.0,630.5 510.0,634.5 525.0,636.8 540.0,639.2 550.0,642.0 565.0,642.5 585.0,642.5 597.5,645.5 610.0,649.2 625.0,656.8 640.0,667.5 655.0,681.8 670.0,694.2 685.0,705.5 695.0,713.8 702.5,717.5 711.0,723.5 722.5,726.0 735.0,726.2 747.5,721.0 760.0,711.8 775.0,698.0 790.0,680.5 805.0,665.5 820.0,651.8 835.0,640.5 850.0,629.2 853.0,627.5 862.5,623.0 875.0,620.5 887.5,620.5 902.5,622.5 915.0,626.0 930.0,630.5 945.0,634.2 960.0,637.0 975.0,639.5 990.0,641.5 1000.0,643.0 1012.5,646.0 1030.0,650.0 1047.5,652.5 1062.5,656.0 1080.0,656.5 1100.0,657.5 1117.5,659.2 1130.0,662.5 1142.5,665.5 1152.5,668.5 1162.5,669.5 1175.0,668.0 1185.0,666.5 1195.0,661.0 1205.0,655.5 1215.0,648.0 1225.0,639.2 1235.0,631.0 1245.0,625.0 1255.0,621.0 1265.0,619.0 1277.0,618.5 1287.0,618.0 1299.5,620.5 1309.5,623.0 1317.0,627.5 1327.0,630.0 1339.5,632.5 1352.0,636.5 1362.0,638.5 1377.0,640.5 1387.0,641.5 1397.0,639.0 1407.0,636.8 1417.0,631.0 1427.0,625.5 1437.0,619.0 1447.0,613.0 1454.0,609.0 1461.0,606.0" fill="none" stroke="#f00" stroke-width="1" stroke-dasharray="3,3" shape-rendering="crispEdges"/>
<line x1="1354.5" y1="662.0" x2="1465.2" y2="601.3" stroke="#f00" stroke-width="3.0" stroke-linecap="round"/><polygon points="1474.0,596.5 1465.9,606.7 1461.1,597.9" fill="#f00"/>
<text x="1.3" y="591.6" textLength="148" lengthAdjust="spacingAndGlyphs">MACD(12,26,9) 0.001870 0.001107</text>
<text x="1659.2" y="590.4">0.002332</text>
<text x="1659.2" y="622.4">0.00</text>
<text x="1659.2" y="746.4">-0.007836</text>
<g shape-rendering="crispEdges"><rect x="1656" y="581" width="2" height="1"/><rect x="1656" y="619" width="2" height="1"/><rect x="1656" y="748" width="2" height="1"/><rect x="1656" y="753" width="2" height="1"/></g>
<g shape-rendering="crispEdges" fill="#c0c0c0">
<line x1="0" y1="787.5" x2="1655" y2="787.5" stroke="#c0c0c0" stroke-width="1" stroke-dasharray="3,3" stroke-dashoffset="2"/>
<line x1="0" y1="838.5" x2="1655" y2="838.5" stroke="#c0c0c0" stroke-width="1" stroke-dasharray="3,3" stroke-dashoffset="2"/>
<line x1="0" y1="899.5" x2="1655" y2="899.5" stroke="#c0c0c0" stroke-width="1" stroke-dasharray="3,3" stroke-dashoffset="2"/>
</g>
<polyline points="-2.5,828.5 5.5,822.5 13.5,825.5 21.5,819.2 29.5,815.0 37.5,823.0 45.5,844.2 53.5,845.5 61.5,850.5 69.5,848.5 77.5,846.5 85.5,854.5 93.5,853.5 101.5,837.0 109.5,839.5 117.5,839.5 125.5,840.5 133.5,850.5 141.5,832.5 149.5,860.5 157.5,857.5 165.5,856.5 173.5,859.5 181.5,853.0 189.5,846.5 197.5,831.0 205.5,835.5 213.5,834.2 221.5,842.0 229.5,845.5 237.5,831.5 245.5,830.5 253.5,828.5 261.5,831.5 269.5,837.0 277.5,846.5 285.5,842.5 293.5,842.5 301.5,838.5 309.5,841.8 317.5,837.0 325.5,831.8 333.5,830.0 341.5,852.0 349.5,856.5 357.5,856.5 365.5,852.5 373.5,863.5 381.5,856.5 389.5,830.5 397.5,829.2 405.5,828.5 413.5,825.5 421.5,831.8 429.5,838.0 437.5,852.5 445.5,854.5 453.5,849.5 461.5,851.5 469.5,854.5 477.5,855.5 485.5,847.5 493.5,850.5 501.5,849.5 509.5,848.5 517.5,845.5 525.5,872.0 533.5,856.5 541.5,852.5 549.5,852.5 557.5,851.0 565.5,836.5 573.5,836.5 581.5,840.0 589.5,872.0 597.5,873.5 605.5,871.5 613.5,875.5 621.5,880.5 629.5,885.5 637.5,882.5 645.5,874.5 653.5,876.5 661.5,882.5 669.5,882.5 677.5,892.5 685.5,890.5 693.5,891.5 701.5,893.5 709.5,875.5 717.5,860.5 725.5,848.0 733.5,842.5 741.5,844.5 749.5,847.5 757.5,854.5 765.5,850.5 773.5,843.0 781.5,834.5 789.5,834.5 797.5,840.5 805.5,826.5 813.5,829.5 821.5,828.5 829.5,834.5 837.5,831.5 845.5,835.5 853.5,835.5 861.5,850.5 869.5,852.5 877.5,841.5 885.5,847.5 893.5,842.5 901.5,848.5 909.5,852.5 917.5,851.0 925.5,858.5 933.5,849.5 941.5,852.5 949.5,837.0 957.5,848.5 965.5,847.5 973.5,853.5 981.5,851.5 989.5,855.5 997.5,857.5 1005.5,865.5 1013.5,857.5 1021.5,855.5 1029.5,858.5 1037.5,852.5 1045.5,859.5 1053.5,844.5 1061.5,861.5 1069.5,851.5 1077.5,852.5 1085.5,854.5 1093.5,854.5 1101.5,857.0 1109.5,865.0 1117.5,869.5 1125.5,869.5 1133.5,864.5 1141.5,867.5 1149.5,871.0 1157.5,850.0 1165.5,834.5 1173.5,836.0 1181.5,839.5 1189.5,831.5 1197.5,828.5 1205.5,829.5 1213.5,831.5 1221.5,829.5 1229.5,819.5 1237.5,825.5 1245.5,832.5 1253.5,853.5 1261.5,851.5 1269.5,849.5 1277.5,850.5 1285.5,849.0 1293.5,837.0 1301.5,851.5 1309.5,848.5 1317.5,848.5 1325.5,853.0 1333.5,855.5 1341.5,860.5 1349.5,857.5 1357.5,848.0 1365.5,846.5 1373.5,850.5 1381.5,851.5 1389.5,833.0 1397.5,823.0 1405.5,810.0 1413.5,808.0 1421.5,813.0 1429.5,818.0 1437.5,832.5 1445.5,820.5 1453.5,821.0 1461.5,822.5" fill="none" stroke="#1e90ff" stroke-width="1" shape-rendering="crispEdges"/>
<line x1="1334.5" y1="861.5" x2="1398.5" y2="822.2" stroke="#f00" stroke-width="3.0" stroke-linecap="round"/><polygon points="1407.0,817.0 1399.4,827.5 1394.2,819.0" fill="#f00"/>
<line x1="1407.0" y1="817.0" x2="1423.7" y2="823.8" stroke="#f00" stroke-width="3.0" stroke-linecap="round"/><polygon points="1433.0,827.5 1420.0,827.6 1423.7,818.4" fill="#f00"/>
<line x1="1433.0" y1="827.5" x2="1494.5" y2="821.9" stroke="#f00" stroke-width="3.0" stroke-linecap="round"/><polygon points="1504.5,821.0 1493.0,827.1 1492.1,817.1" fill="#f00"/>
<text x="2" y="764" textLength="66.8" lengthAdjust="spacingAndGlyphs">RSI(14) 59.3201</text>
<text x="1659.2" y="762.1999999999999">100</text>
<text x="1659.2" y="790.6999999999999">80</text>
<text x="1659.2" y="841.6999999999999">50</text>
<text x="1659.2" y="903.1999999999999">15</text>
<text x="1659.2" y="921.9">0</text>
<g shape-rendering="crispEdges">
<rect x="61" y="926" width="1" height="3"/>
<rect x="125" y="926" width="1" height="3"/>
<rect x="189" y="926" width="1" height="3"/>
<rect x="253" y="926" width="1" height="3"/>
<rect x="317" y="926" width="1" height="3"/>
<rect x="381" y="926" width="1" height="3"/>
<rect x="445" y="926" width="1" height="3"/>
<rect x="509" y="926" width="1" height="3"/>
<rect x="573" y="926" width="1" height="3"/>
<rect x="637" y="926" width="1" height="3"/>
<rect x="701" y="926" width="1" height="3"/>
<rect x="765" y="926" width="1" height="3"/>
<rect x="829" y="926" width="1" height="3"/>
<rect x="893" y="926" width="1" height="3"/>
<rect x="957" y="926" width="1" height="3"/>
<rect x="1021" y="926" width="1" height="3"/>
<rect x="1085" y="926" width="1" height="3"/>
<rect x="1149" y="926" width="1" height="3"/>
<rect x="1213" y="926" width="1" height="3"/>
<rect x="1277" y="926" width="1" height="3"/>
<rect x="1341" y="926" width="1" height="3"/>
<rect x="1405" y="926" width="1" height="3"/>
</g>
<text x="-2.6" y="937.6" font-size="9.2px">31 May 2021</text>
<text x="60.3" y="937.6" font-size="9.2px">1 Jun 16:00</text>
<text x="124.3" y="937.6" font-size="9.2px">3 Jun 00:00</text>
<text x="188.3" y="937.6" font-size="9.2px">4 Jun 08:00</text>
<text x="252.3" y="937.6" font-size="9.2px">7 Jun 16:00</text>
<text x="316.3" y="937.6" font-size="9.2px">9 Jun 00:00</text>
<text x="380.3" y="937.6" font-size="9.2px">10 Jun 08:00</text>
<text x="444.3" y="937.6" font-size="9.2px">11 Jun 16:00</text>
<text x="508.3" y="937.6" font-size="9.2px">15 Jun 00:00</text>
<text x="572.3" y="937.6" font-size="9.2px">16 Jun 08:00</text>
<text x="636.3" y="937.6" font-size="9.2px">17 Jun 16:00</text>
<text x="700.3" y="937.6" font-size="9.2px">21 Jun 00:00</text>
<text x="764.3" y="937.6" font-size="9.2px">22 Jun 08:00</text>
<text x="828.3" y="937.6" font-size="9.2px">23 Jun 16:00</text>
<text x="892.3" y="937.6" font-size="9.2px">25 Jun 00:00</text>
<text x="956.3" y="937.6" font-size="9.2px">28 Jun 08:00</text>
<text x="1020.3" y="937.6" font-size="9.2px">29 Jun 16:00</text>
<text x="1084.3" y="937.6" font-size="9.2px">1 Jul 00:00</text>
<text x="1148.3" y="937.6" font-size="9.2px">2 Jul 08:00</text>
<text x="1212.3" y="937.6" font-size="9.2px">5 Jul 16:00</text>
<text x="1276.3" y="937.6" font-size="9.2px">7 Jul 00:00</text>
<text x="1340.3" y="937.6" font-size="9.2px">8 Jul 08:00</text>
<text x="1404.3" y="937.6" font-size="9.2px">9 Jul 16:00</text>
<rect x="1701" y="21" width="1" height="919" fill="#dcdcdc" shape-rendering="crispEdges"/>
</svg>

<div id="oct">
 <div class="btn sell"><span>SELL</span><i></i></div>
 <div class="spin"><div class="sb dn"></div><div class="inp">1.00</div><div class="sb up"></div></div>
 <div class="btn buy"><span>BUY</span><i></i></div>
 <div class="blk l"><span class="s">1.38</span><span class="b">78</span><span class="p">9</span></div>
 <div class="blk r"><span class="s">1.38</span><span class="b">95</span><span class="p">4</span></div>
</div>

</div>
</body></html>
